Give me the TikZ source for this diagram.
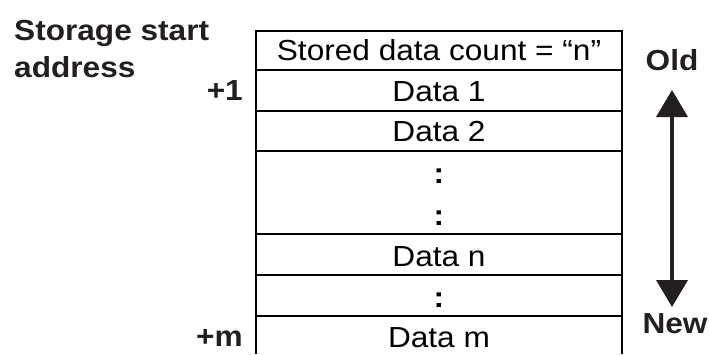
\documentclass[tikz,border=0pt]{standalone}
\usepackage{fontspec}
\setmainfont{Liberation Sans}[FakeStretch=1.09]
\usetikzlibrary{arrows.meta}
\definecolor{txt}{HTML}{231F20}
\tikzset{
  lbl/.style={text=txt, font=\fontsize{29bp}{37bp}\selectfont\bfseries, inner sep=0pt},
  cell/.style={text=black, font=\fontsize{29bp}{37bp}\selectfont, inner sep=0pt, anchor=base},
  dots/.style={text=black, font=\fontsize{29bp}{37bp}\selectfont\bfseries, inner sep=0pt, anchor=base},
  grid/.style={line width=2.2bp, black},
  agearrow/.style={line width=4bp, txt, {Triangle[width=31bp,length=27bp]}-{Triangle[width=31bp,length=27bp]}}
}
\begin{document}
\begin{tikzpicture}[x=1bp,y=-1bp]
\useasboundingbox (0,0) rectangle (709,354);
% grid
\draw[grid] (256,354) -- (256,31) -- (622,31) -- (622,354);
\foreach \yy in {70,111,151,234,275,316}
  \draw[grid] (256,\yy) -- (622,\yy);
% cells
\node[cell] (count) at (439,60) {Stored data count = “n”};
\node[cell] (d1) at (439,101) {Data 1};
\node[cell] (d2) at (439,141) {Data 2};
\node[dots] (dotsA) at (439,183) {:};
\node[dots] (dotsB) at (439,225) {:};
\node[cell] (dn) at (439,266) {Data n};
\node[dots] (dotsC) at (439,307) {:};
\node[cell] (dm) at (439,347) {Data m};
% labels
\node[lbl, anchor=base west, align=left] (start) at (14,77) {Storage start\\address};
\node[lbl, anchor=base east] (p1) at (243,100) {+1};
\node[lbl, anchor=base east] (pm) at (243,346) {+m};
\node[lbl, anchor=base] (old) at (672,70) {Old};
\node[lbl, anchor=base] (new) at (675,333) {New};
% arrow
\coordinate (atop) at (672,90);
\coordinate (abot) at (672,307);
\draw[agearrow] (atop) -- (abot);
\end{tikzpicture}
\end{document}
